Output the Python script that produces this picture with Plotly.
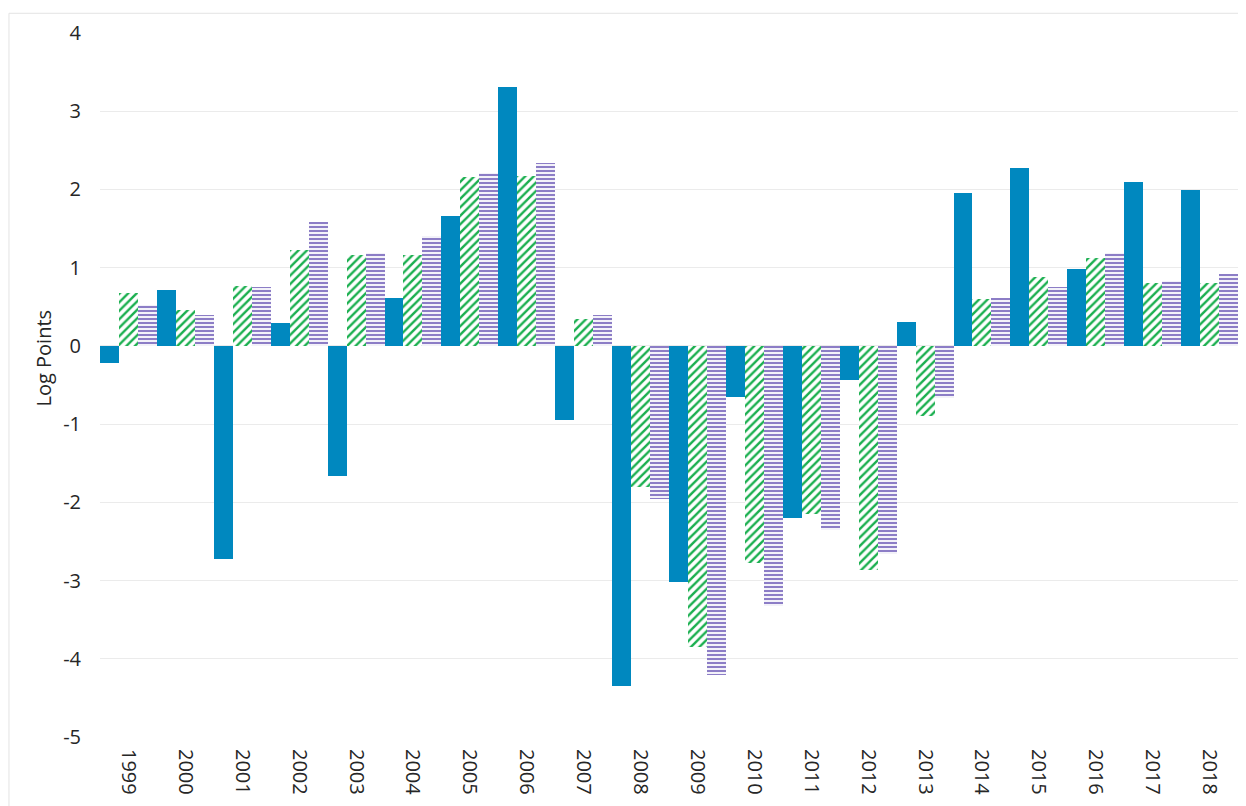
import plotly.graph_objects as go

years = [str(y) for y in range(1999, 2019)]

# three series (log points)
blue_vals = [-0.22, 0.71, -2.72, 0.29, -1.66, 0.61, 1.66, 3.31, -0.95, -4.35,
             -3.02, -0.65, -2.20, -0.44, 0.31, 1.95, 2.27, 0.98, 2.10, 1.99]
green_vals = [0.68, 0.46, 0.76, 1.22, 1.16, 1.16, 2.16, 2.17, 0.34, -1.81,
              -3.85, -2.77, -2.15, -2.86, -0.89, 0.60, 0.88, 1.12, 0.80, 0.80]
purple_vals = [0.52, 0.39, 0.75, 1.59, 1.19, 1.40, 2.21, 2.34, 0.39, -1.96,
               -4.21, -3.33, -2.35, -2.66, -0.66, 0.61, 0.75, 1.19, 0.83, 0.92]

y_ticks = [4, 3, 2, 1, 0, -1, -2, -3, -4, -5]
y_labels = ["4", "3", "2", "1", "0", "-1", "-2", "-3", "-4", "-5"]

BLUE = "#0088BF"
GREEN = "#1AAF4F"
PURPLE = "#8C7DC6"

fig = go.Figure()

fig.add_trace(go.Bar(
    x=years, y=blue_vals, name="Series 1",
    marker=dict(color=BLUE, line=dict(width=0)),
))
fig.add_trace(go.Bar(
    x=years, y=green_vals, name="Series 2",
    marker=dict(color=GREEN, line=dict(width=0),
                pattern=dict(shape="/", fgcolor=GREEN, bgcolor="white",
                             size=6, solidity=0.4, fillmode="replace")),
))
fig.add_trace(go.Bar(
    x=years, y=purple_vals, name="Series 3",
    marker=dict(color=PURPLE, line=dict(width=0),
                pattern=dict(shape="-", fgcolor=PURPLE, bgcolor="white",
                             size=4, solidity=0.55, fillmode="replace")),
))

# page body adds 8px on the left/top, so the figure is trimmed to fit
fig.update_layout(
    width=1238, height=798,
    margin=dict(l=92, r=8, t=25, b=69),
    paper_bgcolor="white", plot_bgcolor="white",
    barmode="group", bargap=0, bargroupgap=0,
    showlegend=False,
    font=dict(family="Open Sans, Segoe UI, sans-serif", size=20, color="#262626"),
)

fig.update_yaxes(
    range=[-5, 4], tickvals=y_ticks, ticktext=y_labels,
    showgrid=True, gridcolor="#EBEBEB", gridwidth=1,
    zeroline=False, showline=False, ticks="",
    ticklabelstandoff=18,
)
fig.update_xaxes(
    tickangle=90, showgrid=False, showline=False, ticks="",
    ticklabelstandoff=11,
)

# y-axis title
fig.add_annotation(
    text="Log Points", textangle=-90,
    xref="paper", yref="y", x=-0.05, y=-0.16,
    xanchor="center", yanchor="middle",
    showarrow=False, font=dict(size=20, color="#262626"),
)

# light frame around the chart
fig.add_shape(
    type="rect", xref="paper", yref="paper",
    x0=-0.08, x1=1.02, y0=-0.12, y1=1.028,
    line=dict(color="#E3E3E3", width=1), layer="below",
)

fig.write_html("out.html")
